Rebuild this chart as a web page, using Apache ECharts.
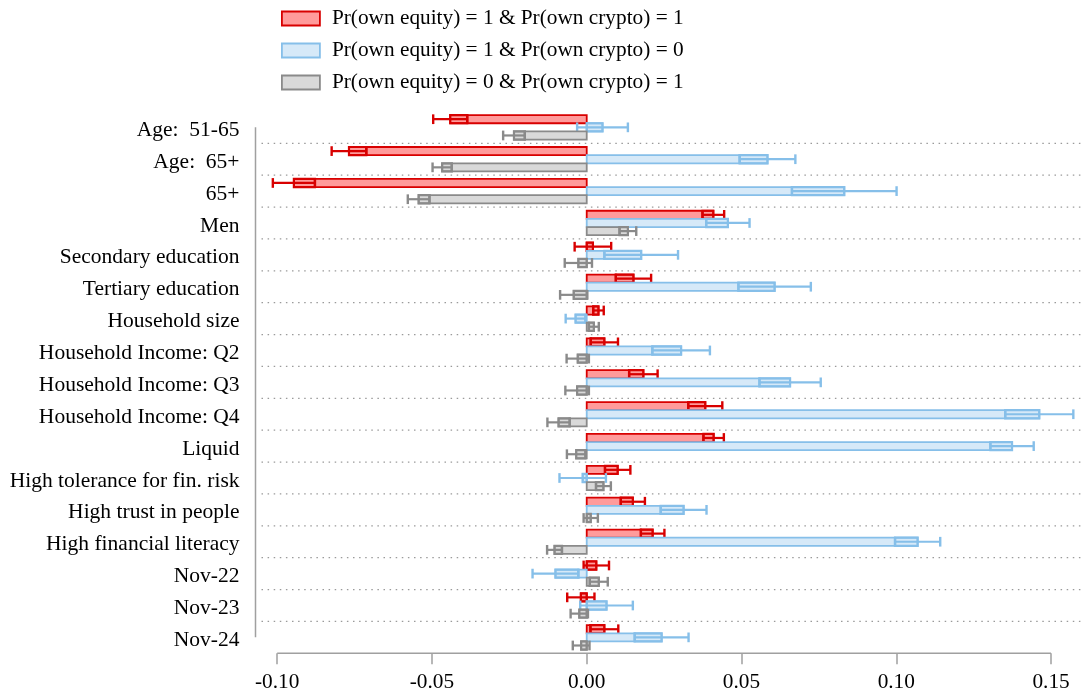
<!DOCTYPE html>
<html>
<head>
<meta charset="utf-8">
<script src="https://cdn.jsdelivr.net/npm/echarts@6/dist/echarts.min.js"></script>
<style>
html,body{margin:0;padding:0;background:#fff;}
#chart{width:1086px;height:696px;}
</style>
</head>
<body>
<div id="chart"></div>
<script>
const categories = ["Age:  51-65", "Age:  65+", "65+", "Men", "Secondary education", "Tertiary education",
  "Household size", "Household Income: Q2", "Household Income: Q3", "Household Income: Q4", "Liquid",
  "High tolerance for fin. risk", "High trust in people", "High financial literacy", "Nov-22", "Nov-23", "Nov-24"];

const seriesNames = ["Pr(own equity) = 1 & Pr(own crypto) = 1",
  "Pr(own equity) = 1 & Pr(own crypto) = 0",
  "Pr(own equity) = 0 & Pr(own crypto) = 1"];

// point estimates
const redEst  = [-0.0441, -0.0768, -0.0946, 0.0409, 0.0020, 0.0151, 0.0038, 0.0057, 0.0183, 0.0383, 0.0410, 0.0100, 0.0149, 0.0213, 0.0031, -0.0019, 0.0057];
const blueEst = [0.0051, 0.0584, 0.0832, 0.0456, 0.0176, 0.0607, -0.0036, 0.0305, 0.0657, 0.1462, 0.1374, -0.0013, 0.0313, 0.1069, -0.0101, 0.0064, 0.0242];
const grayEst = [-0.0235, -0.0467, -0.0543, 0.0133, -0.0027, -0.0042, 0.0023, -0.0029, -0.0031, -0.0091, -0.0034, 0.0054, 0.0013, -0.0104, 0.0039, -0.0024, -0.0018];
// confidence interval half-widths
const redHw  = [0.0055, 0.0056, 0.0068, 0.0035, 0.0059, 0.0057, 0.0017, 0.0044, 0.0046, 0.0055, 0.0033, 0.0041, 0.0039, 0.0038, 0.0041, 0.0044, 0.0045];
const blueHw = [0.0082, 0.0090, 0.0169, 0.0070, 0.0119, 0.0117, 0.0032, 0.0093, 0.0099, 0.0110, 0.0070, 0.0075, 0.0074, 0.0073, 0.0074, 0.0085, 0.0087];
const grayHw = [0.0035, 0.0031, 0.0035, 0.0027, 0.0044, 0.0044, 0.0016, 0.0036, 0.0038, 0.0036, 0.0030, 0.0024, 0.0023, 0.0024, 0.0029, 0.0028, 0.0027];

const xTicks = [-0.10, -0.05, 0.00, 0.05, 0.10, 0.15];

const styles = [
  {fill: '#ff9b9b', stroke: '#d80000'},
  {fill: '#d6e9f8', stroke: '#86bfe9'},
  {fill: '#d9d9d9', stroke: '#8a8a8a'}
];
const FONT = 'Liberation Serif, Times New Roman, serif';

function buildData(est, hw) {
  return est.map((e, i) => [i, e, e - hw[i], e + hw[i]]);
}

function makeRender(k) {
  const st = styles[k];
  const off = k - 1;
  return function (params, api) {
    const ci = api.value(0), est = api.value(1), lo = api.value(2), hi = api.value(3);
    const band = api.size([0, 1])[1];
    const h = band * 0.255;
    const c0 = api.coord([0, ci]);
    const cy = c0[1] + off * h;
    const x0 = c0[0];
    const xe = api.coord([est, ci])[0];
    const xl = api.coord([lo, ci])[0];
    const xh = api.coord([hi, ci])[0];
    const bLo = Math.max(Math.min(0, est), lo), bHi = Math.min(Math.max(0, est), hi);
    const xb1 = api.coord([bLo, ci])[0], xb2 = api.coord([bHi, ci])[0];
    const ch = h / 2 + 0.8;
    const children = [
      {type: 'rect', shape: {x: Math.min(x0, xe), y: cy - h / 2, width: Math.abs(xe - x0), height: h},
        style: {fill: st.fill, stroke: st.stroke, lineWidth: 1.8}},
      {type: 'line', shape: {x1: xl, y1: cy, x2: xh, y2: cy}, style: {stroke: st.stroke, lineWidth: 2.2}},
      {type: 'line', shape: {x1: xl, y1: cy - ch, x2: xl, y2: cy + ch}, style: {stroke: st.stroke, lineWidth: 2.4}},
      {type: 'line', shape: {x1: xh, y1: cy - ch, x2: xh, y2: cy + ch}, style: {stroke: st.stroke, lineWidth: 2.4}}
    ];
    if (xb2 > xb1) {
      children.push({type: 'rect', shape: {x: Math.min(xb1, xb2), y: cy - h / 2, width: Math.abs(xb2 - xb1), height: h},
        style: {fill: 'none', stroke: st.stroke, lineWidth: 2.2}});
    }
    return {type: 'group', children: children};
  };
}

function renderSep(params, api) {
  const ci = api.value(1);
  const band = api.size([0, 1])[1];
  const y = api.coord([0, ci])[1] + band / 2;
  const cs = params.coordSys;
  return {type: 'line', silent: true,
    shape: {x1: cs.x + 6, y1: y, x2: cs.x + cs.width, y2: y},
    style: {stroke: '#9a9a9a', lineWidth: 1.3, lineDash: [1.5, 4.6]}};
}

const sepData = categories.slice(0, categories.length - 1).map((c, i) => [0, i]);

const chart = echarts.init(document.getElementById('chart'));
const option = {
  backgroundColor: '#fff',
  animation: false,
  textStyle: {fontFamily: FONT},
  legend: {
    orient: 'vertical', left: 276, top: 3, itemWidth: 38, itemHeight: 14, itemGap: 11,
    textStyle: {fontFamily: FONT, fontSize: 21.3, color: '#000', padding: [0, 0, 0, 7]},
    data: seriesNames.map((n, k) => ({name: n, icon: 'rect',
      itemStyle: {color: styles[k].fill, borderColor: styles[k].stroke, borderWidth: 1.8}}))
  },
  grid: {left: 255.5, right: 4, top: 111.4, bottom: 42.7},
  xAxis: {
    type: 'value', min: -0.107, max: 0.16,
    axisLine: {show: false},
    splitLine: {show: false},
    axisTick: {show: true, customValues: xTicks, length: 11, lineStyle: {color: '#a0a0a0', width: 1.5}},
    axisLabel: {customValues: xTicks, margin: 19, fontSize: 21.3, color: '#000', fontFamily: FONT,
      formatter: v => v.toFixed(2)}
  },
  yAxis: {
    type: 'category', inverse: true, data: categories,
    axisLine: {show: false}, axisTick: {show: false}, splitLine: {show: false},
    axisLabel: {margin: 16, color: '#000', fontFamily: FONT,
      formatter: '{t|{value}}',
      rich: {t: {fontSize: 21.5, fontFamily: FONT, color: '#000', padding: [6, 0, 0, 0]}}}
  },
  series: [
    {type: 'custom', name: 'sep', silent: true, renderItem: renderSep, data: sepData, encode: {x: 0, y: 1}, z: 1},
    {type: 'custom', name: seriesNames[0], renderItem: makeRender(0), data: buildData(redEst, redHw), encode: {x: [1, 2, 3], y: 0}, z: 3,
      itemStyle: {color: styles[0].fill, borderColor: styles[0].stroke}},
    {type: 'custom', name: seriesNames[1], renderItem: makeRender(1), data: buildData(blueEst, blueHw), encode: {x: [1, 2, 3], y: 0}, z: 3,
      itemStyle: {color: styles[1].fill, borderColor: styles[1].stroke}},
    {type: 'custom', name: seriesNames[2], renderItem: makeRender(2), data: buildData(grayEst, grayHw), encode: {x: [1, 2, 3], y: 0}, z: 3,
      itemStyle: {color: styles[2].fill, borderColor: styles[2].stroke}}
  ]
};
chart.setOption(option);

// Stata-style axis lines: y-axis spans first..last category centre, x-axis spans first..last tick
function drawAxisLines() {
  const n = categories.length;
  const pFirst = chart.convertToPixel({gridIndex: 0}, [xTicks[0], 0]);
  const pLast = chart.convertToPixel({gridIndex: 0}, [xTicks[0], n - 1]);
  const band = (pLast[1] - pFirst[1]) / (n - 1);
  const yBottom = pLast[1] + band / 2;
  const xLeftEdge = chart.convertToPixel({xAxisIndex: 0}, -0.107);
  const xA = chart.convertToPixel({xAxisIndex: 0}, xTicks[0]);
  const xB = chart.convertToPixel({xAxisIndex: 0}, xTicks[xTicks.length - 1]);
  chart.setOption({graphic: [
    {type: 'line', silent: true, z: 5, shape: {x1: xLeftEdge, y1: pFirst[1], x2: xLeftEdge, y2: pLast[1]},
      style: {stroke: '#a0a0a0', lineWidth: 1.5}},
    {type: 'line', silent: true, z: 5, shape: {x1: xA, y1: yBottom, x2: xB, y2: yBottom},
      style: {stroke: '#a0a0a0', lineWidth: 1.5}}
  ]});
}
drawAxisLines();
</script>
</body>
</html>
